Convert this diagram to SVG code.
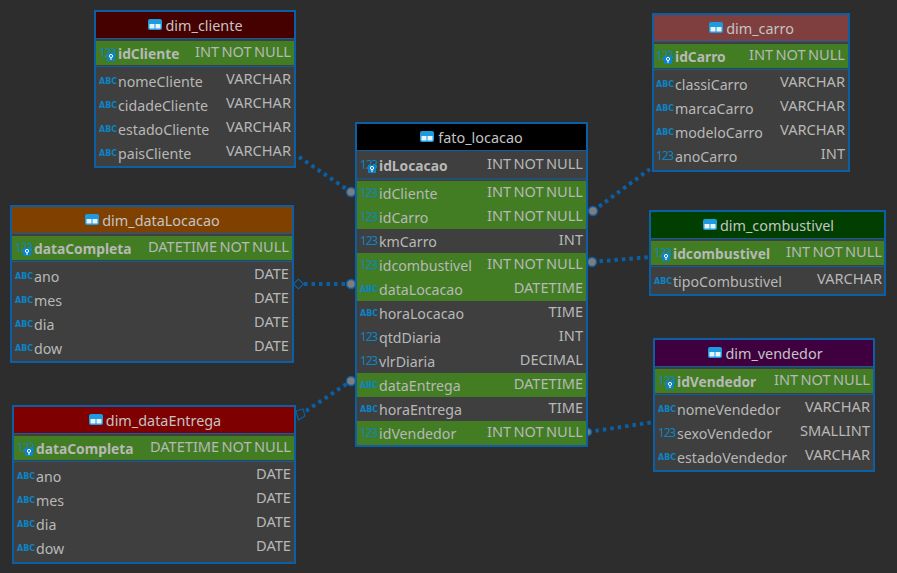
<svg xmlns="http://www.w3.org/2000/svg" width="897" height="573" viewBox="0 0 897 573">
<style>
text{font-family:"Noto Sans","Open Sans","Liberation Sans",sans-serif;font-size:14.2px;fill:#b8b8b8}
.box{fill:#3f3f3f;stroke:#0b5fa5;stroke-width:2}
.ln{stroke:#0b5fa5;stroke-width:1.2}
.g{fill:#427d24}
.t{text-anchor:middle;font-size:14.4px;fill:#c4c4c4}
.k{font-weight:700;font-size:13.8px}
.r{text-anchor:end;font-size:14.6px;word-spacing:-1.500px}
.n{font-size:12px;letter-spacing:-1.200px;fill:#0b84c6}
.a{font-size:8px;font-weight:700;fill:#0b84c6;font-family:"DejaVu Sans",sans-serif}
.c{fill:none;stroke:#0b5fa5;stroke-width:4;stroke-dasharray:3.500 4}
.e{fill:#7d7d7d;stroke:#0b5fa5;stroke-width:1.500}
.d{fill:none;stroke:#0b5fa5;stroke-width:1.200}
</style>
<defs>
<g id="tb"><rect x="0" y="0" width="14" height="11" rx="2" fill="#1e9be0"/><rect x="1.500" y="5" width="5" height="4.500" fill="#e8f4fb"/><rect x="7.500" y="5" width="5" height="4.500" fill="#e8f4fb"/></g>
<g id="key"><rect x="0" y="0" width="8" height="8" fill="#0b84c6"/><circle cx="4" cy="3" r="1.600" fill="none" stroke="#fff"/><path d="M4 4.500V7" stroke="#fff"/></g>
</defs>
<rect width="897" height="573" fill="#2d2d2d"/>
<g id="connectors">
<path class="c" d="M299 157L351 192"/>
<path class="c" d="M593 211L650 169"/>
<path class="c" d="M592 262L650 257"/>
<path class="c" d="M304 284H351"/>
<path class="c" d="M306 411L351 381"/>
<path class="c" d="M588 432L654 422"/>
<circle class="e" cx="351" cy="192" r="4.500"/>
<circle class="e" cx="593" cy="211" r="4.500"/>
<circle class="e" cx="592" cy="262" r="4.500"/>
<circle class="e" cx="351" cy="284" r="4.500"/>
<circle class="e" cx="351" cy="381" r="4.500"/>
<circle class="e" cx="588" cy="432" r="3.500"/>
<path class="d" d="M293.500 284L298.500 279L303.500 284L298.500 289Z"/>
<path class="d" d="M296 411L303 409L305 416L298.500 420Z"/>
</g>
<g id="dim_cliente" transform="translate(95 11)">
<rect class="box" width="200" height="156"/><rect x="1" y="1" width="198" height="26" fill="#450000"/><path class="ln" d="M1 27.500H199M1 55.500H199"/><rect class="g" x="1" y="30" width="198" height="24"/>
<use href="#tb" x="53" y="8"/><text class="t" x="109" y="20">dim_cliente</text>
<text class="n" x="4" y="46">123</text><use href="#key" x="12" y="42"/><text class="k" x="23" y="48">idCliente</text><text class="r" x="196" y="46">INT NOT NULL</text>
<text class="a" x="4" y="73">ABC</text><text x="23" y="76">nomeCliente</text><text class="r" x="196" y="73">VARCHAR</text>
<text class="a" x="4" y="97">ABC</text><text x="23" y="100">cidadeCliente</text><text class="r" x="196" y="97">VARCHAR</text>
<text class="a" x="4" y="121">ABC</text><text x="23" y="124">estadoCliente</text><text class="r" x="196" y="121">VARCHAR</text>
<text class="a" x="4" y="145">ABC</text><text x="23" y="148">paisCliente</text><text class="r" x="196" y="145">VARCHAR</text>
</g>
<g id="dim_carro" transform="translate(653 14)">
<rect class="box" width="196" height="157"/><rect x="1" y="1" width="194" height="26" fill="#7f3f3f"/><path class="ln" d="M1 27.500H195M1 55.500H195"/><rect class="g" x="1" y="30" width="194" height="24"/>
<use href="#tb" x="56" y="8"/><text class="t" x="107" y="20">dim_carro</text>
<text class="n" x="3" y="46">123</text><use href="#key" x="11" y="42"/><text class="k" x="22" y="48">idCarro</text><text class="r" x="192" y="46">INT NOT NULL</text>
<text class="a" x="3" y="73">ABC</text><text x="22" y="76">classiCarro</text><text class="r" x="192" y="73">VARCHAR</text>
<text class="a" x="3" y="97">ABC</text><text x="22" y="100">marcaCarro</text><text class="r" x="192" y="97">VARCHAR</text>
<text class="a" x="3" y="121">ABC</text><text x="22" y="124">modeloCarro</text><text class="r" x="192" y="121">VARCHAR</text>
<text class="n" x="3" y="146">123</text><text x="22" y="148">anoCarro</text><text class="r" x="192" y="145">INT</text>
</g>
<g id="dim_dataLocacao" transform="translate(11 206)">
<rect class="box" width="282" height="156"/><rect x="1" y="1" width="280" height="26" fill="#7f4000"/><path class="ln" d="M1 27.500H281M1 55.500H281"/><rect class="g" x="1" y="30" width="280" height="24"/>
<use href="#tb" x="74" y="8"/><text class="t" x="150" y="20">dim_dataLocacao</text>
<text class="n" x="4" y="46">123</text><use href="#key" x="12" y="42"/><text class="k" x="23" y="48">dataCompleta</text><text class="r" x="278" y="46">DATETIME NOT NULL</text>
<text class="a" x="4" y="73">ABC</text><text x="23" y="76">ano</text><text class="r" x="278" y="73">DATE</text>
<text class="a" x="4" y="97">ABC</text><text x="23" y="100">mes</text><text class="r" x="278" y="97">DATE</text>
<text class="a" x="4" y="121">ABC</text><text x="23" y="124">dia</text><text class="r" x="278" y="121">DATE</text>
<text class="a" x="4" y="145">ABC</text><text x="23" y="148">dow</text><text class="r" x="278" y="145">DATE</text>
</g>
<g id="dim_dataEntrega" transform="translate(13 406)">
<rect class="box" width="282" height="157"/><rect x="1" y="1" width="280" height="26" fill="#7f0000"/><path class="ln" d="M1 27.500H281M1 55.500H281"/><rect class="g" x="1" y="30" width="280" height="24"/>
<use href="#tb" x="76" y="8"/><text class="t" x="150.500" y="20">dim_dataEntrega</text>
<text class="n" x="4" y="46">123</text><use href="#key" x="12" y="42"/><text class="k" x="23" y="48">dataCompleta</text><text class="r" x="278" y="46">DATETIME NOT NULL</text>
<text class="a" x="4" y="73">ABC</text><text x="23" y="76">ano</text><text class="r" x="278" y="73">DATE</text>
<text class="a" x="4" y="97">ABC</text><text x="23" y="100">mes</text><text class="r" x="278" y="97">DATE</text>
<text class="a" x="4" y="121">ABC</text><text x="23" y="124">dia</text><text class="r" x="278" y="121">DATE</text>
<text class="a" x="4" y="145">ABC</text><text x="23" y="148">dow</text><text class="r" x="278" y="145">DATE</text>
</g>
<g id="dim_combustivel" transform="translate(650 211)">
<rect class="box" width="235" height="84"/><rect x="1" y="1" width="233" height="26" fill="#003f00"/><path class="ln" d="M1 27.500H234M1 55.500H234"/><rect class="g" x="1" y="30" width="233" height="24"/>
<use href="#tb" x="53" y="8"/><text class="t" x="127" y="20">dim_combustivel</text>
<text class="n" x="4" y="46">123</text><use href="#key" x="12" y="42"/><text class="k" x="23" y="48">idcombustivel</text><text class="r" x="232" y="46">INT NOT NULL</text>
<text class="a" x="4" y="73">ABC</text><text x="23" y="76">tipoCombustivel</text><text class="r" x="232" y="73">VARCHAR</text>
</g>
<g id="dim_vendedor" transform="translate(654 339)">
<rect class="box" width="220" height="132"/><rect x="1" y="1" width="218" height="26" fill="#3f003f"/><path class="ln" d="M1 27.500H219M1 55.500H219"/><rect class="g" x="1" y="30" width="218" height="24"/>
<use href="#tb" x="54" y="8"/><text class="t" x="120" y="20">dim_vendedor</text>
<text class="n" x="4" y="46">123</text><use href="#key" x="12" y="42"/><text class="k" x="23" y="48">idVendedor</text><text class="r" x="216" y="46">INT NOT NULL</text>
<text class="a" x="4" y="73">ABC</text><text x="23" y="76">nomeVendedor</text><text class="r" x="216" y="73">VARCHAR</text>
<text class="n" x="4" y="98">123</text><text x="23" y="100">sexoVendedor</text><text class="r" x="216" y="97">SMALLINT</text>
<text class="a" x="4" y="121">ABC</text><text x="23" y="124">estadoVendedor</text><text class="r" x="216" y="121">VARCHAR</text>
</g>
<g id="fato_locacao" transform="translate(356 123)">
<rect class="box" width="231" height="323"/><rect x="1" y="1" width="229" height="26" fill="#000"/><path class="ln" d="M1 27.500H230"/><path d="M1 56H230" stroke="#0b5fa5"/>
<rect class="g" x="1" y="58" width="229" height="48"/><rect class="g" x="1" y="130" width="229" height="48"/><rect class="g" x="1" y="250" width="229" height="24"/><rect class="g" x="1" y="298" width="229" height="24"/>
<use href="#tb" x="64" y="8"/><text class="t" x="124.500" y="20">fato_locacao</text>
<text class="n" x="4" y="46">123</text><use href="#key" x="12" y="42"/><text class="k" x="23" y="48">idLocacao</text><text class="r" x="227" y="46">INT NOT NULL</text>
<text class="n" x="4" y="74">123</text><text x="23" y="76">idCliente</text><text class="r" x="227" y="74">INT NOT NULL</text>
<text class="n" x="4" y="98">123</text><text x="23" y="100">idCarro</text><text class="r" x="227" y="98">INT NOT NULL</text>
<text class="n" x="4" y="122">123</text><text x="23" y="124">kmCarro</text><text class="r" x="227" y="122">INT</text>
<text class="n" x="4" y="146">123</text><text x="23" y="148">idcombustivel</text><text class="r" x="227" y="146">INT NOT NULL</text>
<text class="a" x="4" y="169">ABC</text><text x="23" y="172">dataLocacao</text><text class="r" x="227" y="170">DATETIME</text>
<text class="a" x="4" y="193">ABC</text><text x="23" y="196">horaLocacao</text><text class="r" x="227" y="194">TIME</text>
<text class="n" x="4" y="218">123</text><text x="23" y="220">qtdDiaria</text><text class="r" x="227" y="218">INT</text>
<text class="n" x="4" y="242">123</text><text x="23" y="244">vlrDiaria</text><text class="r" x="227" y="242">DECIMAL</text>
<text class="a" x="4" y="265">ABC</text><text x="23" y="268">dataEntrega</text><text class="r" x="227" y="266">DATETIME</text>
<text class="a" x="4" y="289">ABC</text><text x="23" y="292">horaEntrega</text><text class="r" x="227" y="290">TIME</text>
<text class="n" x="4" y="314">123</text><text x="23" y="316">idVendedor</text><text class="r" x="227" y="314">INT NOT NULL</text>
</g>
</svg>
